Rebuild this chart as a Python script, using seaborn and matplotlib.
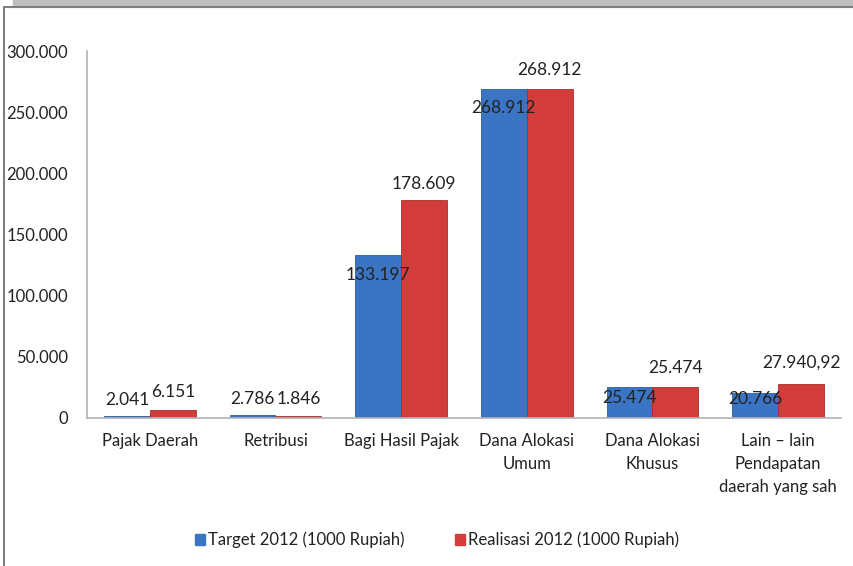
import matplotlib
matplotlib.use("Agg")
import matplotlib.pyplot as plt
import seaborn as sns
import pandas as pd
from matplotlib.patches import Rectangle
from matplotlib.lines import Line2D

categories = ["Pajak Daerah", "Retribusi", "Bagi Hasil Pajak", "Dana Alokasi\nUmum",
              "Dana Alokasi\nKhusus", "Lain \u2013 lain\nPendapatan\ndaerah yang sah"]
target = [2041, 2786, 133197, 268912, 25474, 20766]
realisasi = [6151, 1846, 178609, 268912, 25474, 27940.92]
series = ["Target 2012 (1000 Rupiah)", "Realisasi 2012 (1000 Rupiah)"]
yticks = [0, 50000, 100000, 150000, 200000, 250000, 300000]

# label vertical offsets in pixels (positive = above bar top)
target_off = [16, 16, -20, -19, -11, -6]
real_off = [18, 17, 16, 19, 19, 21]

def fmt(v):
    if float(v).is_integer():
        s = f"{int(v):,}".replace(",", ".")
    else:
        s = f"{v:,.2f}".replace(",", "X").replace(".", ",").replace("X", ".")
    return s

df = pd.DataFrame({
    "cat": categories * 2,
    "val": target + realisasi,
    "series": [series[0]] * len(categories) + [series[1]] * len(categories),
})

sns.set_theme(style="white")
plt.rcParams["font.family"] = ["Lato", "DejaVu Sans"]

fig = plt.figure(figsize=(8.54, 5.66), dpi=100)
ax = fig.add_axes([87/854, 1-418/566, (841-87)/854, (418-51)/566])

colors = ["#3b74c2", "#d23c3a"]
edges = ["#2d5e9e", "#a82f2d"]
sns.barplot(data=df, x="cat", y="val", hue="series", palette=colors, width=0.73,
            ax=ax, legend=False, saturation=1, edgecolor="none")
for cont, ec in zip(ax.containers, edges):
    for bar in cont:
        bar.set_edgecolor(ec)
        bar.set_linewidth(0.6)

FS = 12
ax.set_ylim(0, 300000)
ax.set_yticks(yticks)
ax.set_yticklabels([fmt(t) for t in yticks], fontsize=FS, color="#222222")
ax.set_xlabel("")
ax.set_ylabel("")
ax.tick_params(axis="y", length=0, pad=13.5)
ax.tick_params(axis="x", length=0, pad=10.5, labelsize=FS, labelcolor="#222222")
for lab in ax.get_xticklabels():
    lab.set_multialignment("center")
    lab.set_linespacing(1.55)
for s in ["top", "right"]:
    ax.spines[s].set_visible(False)
for s in ["left", "bottom"]:
    ax.spines[s].set_color("#b3b3b3")
    ax.spines[s].set_linewidth(1.2)

for cont, vals, offs in zip(ax.containers, [target, realisasi], [target_off, real_off]):
    for bar, v, o in zip(cont, vals, offs):
        x = bar.get_x() + bar.get_width() / 2
        ax.annotate(fmt(v), (x, bar.get_height()), xytext=(0, o * 0.72),
                    textcoords="offset points", ha="center", va="center",
                    fontsize=12.5, color="#222222")

handles = [Rectangle((0, 0), 1, 1, color=c) for c in colors]
fig.legend(handles, series, loc="center", bbox_to_anchor=(0.512, 1-540/566), ncol=2,
           frameon=False, fontsize=FS, handlelength=0.6, handleheight=0.6,
           handletextpad=0.2, columnspacing=3.0, labelcolor="#222222")

# frame decorations
fig.patches.append(Rectangle((13/854, 1-5/566), 1, 5/566, transform=fig.transFigure,
                             color="#bfbfbf", zorder=0))
fig.lines.append(Line2D([4/854, 1], [1-6.5/566, 1-6.5/566], transform=fig.transFigure,
                        color="#7f7f7f", lw=1.5))
fig.lines.append(Line2D([4.5/854, 4.5/854], [0, 1-6.5/566], transform=fig.transFigure,
                        color="#7f7f7f", lw=1.5))

fig.savefig("out.png", dpi=100)
